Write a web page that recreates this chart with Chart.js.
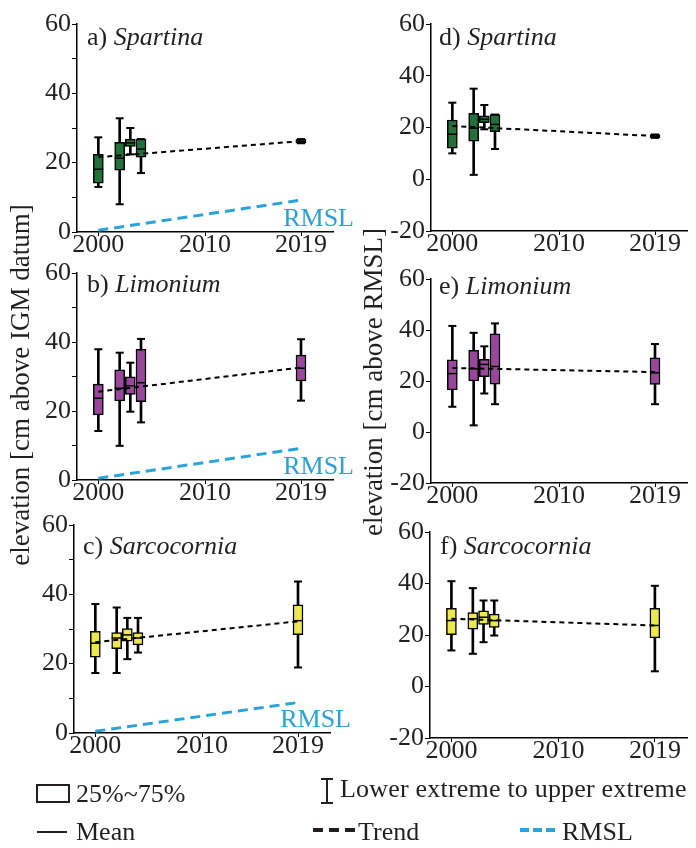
<!DOCTYPE html>
<html><head><meta charset="utf-8">
<script src="https://cdn.jsdelivr.net/npm/chart.js@4/dist/chart.umd.min.js"></script>
<style>
html,body{margin:0;padding:0;background:#fff;}
body{width:696px;height:848px;position:relative;overflow:hidden;font-family:'Liberation Serif',serif;color:#231f20;}
canvas{position:absolute;}
.lg{position:absolute;font-size:26px;line-height:26px;white-space:nowrap;}
.k{position:absolute;background:#231f20;}
.c{position:absolute;background:#29a3d8;}
</style></head><body>
<canvas id="pa"></canvas><canvas id="pb"></canvas><canvas id="pc"></canvas>
<canvas id="pd"></canvas><canvas id="pe"></canvas><canvas id="pf"></canvas>

<div style="position:absolute;left:36px;top:784px;width:30px;height:15px;border:2px solid #231f20;"></div>
<div class="lg" style="left:76px;top:781px">25%~75%</div>
<div class="k" style="left:37px;top:831px;width:30px;height:2px"></div>
<div class="lg" style="left:76px;top:819px">Mean</div>
<div class="k" style="left:326px;top:779px;width:2px;height:24px"></div>
<div class="k" style="left:321px;top:778px;width:12px;height:2px"></div>
<div class="k" style="left:321px;top:802px;width:12px;height:2px"></div>
<div class="lg" style="left:340px;top:776px;letter-spacing:0.2px">Lower extreme to upper extreme</div>
<div class="k" style="left:313px;top:828px;width:10px;height:4px"></div>
<div class="k" style="left:329px;top:828px;width:10px;height:4px"></div>
<div class="k" style="left:345px;top:828px;width:10px;height:4px"></div>
<div class="lg" style="left:358px;top:819px">Trend</div>
<div class="c" style="left:520px;top:828px;width:9px;height:4px"></div>
<div class="c" style="left:533px;top:828px;width:9px;height:4px"></div>
<div class="c" style="left:546px;top:828px;width:9px;height:4px"></div>
<div class="lg" style="left:562px;top:819px">RMSL</div>

<script>
// ---------- data ----------
const years = [2000, 2002, 2003, 2004, 2019];
const trendYears = [2000, 2019];
const xTicks = [2000, 2010, 2019];
const yTicksIGM = [0, 10, 20, 30, 40, 50, 60];
const yTicksRMSL = [-20, -10, 0, 10, 20, 30, 40, 50, 60];

// a) Spartina, cm above IGM datum
const aMin  = [13.0, 8.0, 22.4, 17.0, 25.6];
const aQ1   = [14.1, 17.8, 24.7, 21.6, 25.6];
const aMean = [18.1, 21.3, 25.7, 23.9, 26.2];
const aQ3   = [22.4, 25.9, 26.8, 26.8, 26.8];
const aMax  = [27.3, 32.8, 30.0, 26.8, 26.8];
const aTrend = [21.6, 26.2];

// b) Limonium, cm above IGM datum
const bMin  = [14.2, 9.9, 19.8, 16.7, 23.0];
const bQ1   = [18.9, 22.9, 24.8, 22.7, 28.7];
const bMean = [23.7, 26.6, 27.3, 28.2, 32.4];
const bQ3   = [27.8, 31.9, 29.9, 37.9, 36.2];
const bMax  = [37.9, 36.9, 34.0, 40.9, 40.8];
const bTrend = [25.6, 32.6];

// c) Sarcocornia, cm above IGM datum
const cMin  = [17.3, 17.3, 21.3, 23.2, 18.9];
const cQ1   = [21.9, 24.3, 26.5, 25.4, 28.4];
const cMean = [25.9, 27.4, 28.3, 27.4, 32.4];
const cQ3   = [29.3, 29.0, 30.1, 29.0, 37.0];
const cMax  = [37.2, 36.2, 33.2, 33.2, 43.7];
const cTrend = [26.2, 32.2];

// d) Spartina, cm above RMSL
const dMin  = [10.0, 1.7, 19.3, 11.7, 16.0];
const dQ1   = [12.0, 14.7, 21.9, 18.4, 16.0];
const dMean = [17.4, 19.7, 23.2, 21.2, 16.6];
const dQ3   = [22.9, 25.5, 24.5, 25.0, 17.3];
const dMax  = [29.6, 35.0, 28.7, 25.0, 17.3];
const dTrend = [20.6, 16.7];

// e) Limonium, cm above RMSL
const eMin  = [9.9, 2.6, 15.1, 10.9, 10.9];
const eQ1   = [16.5, 20.0, 21.7, 18.8, 18.7];
const eMean = [22.9, 24.8, 26.5, 25.7, 23.2];
const eQ3   = [28.3, 32.0, 28.5, 38.5, 29.1];
const eMax  = [41.6, 38.9, 33.6, 42.6, 34.5];
const eTrend = [25.1, 23.5];

// f) Sarcocornia, cm above RMSL
const fMin  = [14.0, 12.7, 17.2, 19.8, 5.9];
const fQ1   = [20.1, 22.3, 24.1, 22.9, 18.9];
const fMean = [25.6, 26.3, 26.9, 25.6, 23.7];
const fQ3   = [30.4, 28.7, 29.4, 28.1, 30.4];
const fMax  = [40.9, 38.2, 33.4, 33.4, 39.1];
const fTrend = [26.3, 23.7];

// relative mean sea level rise (cm), 2000 -> 2019
const rmslA = [0.5, 9.2];
const rmslB = [0.5, 9.2];
const rmslC = [0.5, 8.8];

// ---------- styling / layout ----------
const INK = '#231f20';
const GREEN = '#22703a', PURPLE = '#98479a', YELLOW = '#ece74c', CYAN = '#29a3d8';
Chart.defaults.font.family = '"Liberation Serif", "Times New Roman", serif';
Chart.defaults.font.size = 26;
Chart.defaults.color = INK;

const panelText = {
  id: 'panelText',
  afterDraw(chart, args, o) {
    const {ctx, chartArea: ca} = chart;
    ctx.save();
    ctx.fillStyle = INK;
    ctx.textBaseline = 'middle';
    ctx.textAlign = 'left';
    ctx.font = '26px "Liberation Serif"';
    const x0 = ca.left + o.dx, y0 = ca.top + o.dy;
    ctx.fillText(o.letter, x0, y0);
    const w = ctx.measureText(o.letter).width;
    ctx.font = 'italic 26px "Liberation Serif"';
    ctx.fillText(o.species, x0 + w, y0);
    if (o.rmsl) {
      ctx.font = '26px "Liberation Serif"';
      ctx.fillStyle = CYAN;
      ctx.textAlign = 'right';
      ctx.fillText('RMSL', ca.right + 21, ca.bottom - 13);
    }
    if (o.ytitle) {
      ctx.fillStyle = INK;
      ctx.font = '27px "Liberation Serif"';
      ctx.translate(o.tx, ca.top + o.ty);
      ctx.rotate(-Math.PI / 2);
      ctx.textAlign = 'center';
      ctx.fillText(o.ytitle, 0, 0);
    }
    ctx.restore();
  }
};

function panel(p) {
  const cv = document.getElementById(p.id);
  cv.width = p.w; cv.height = p.h;
  cv.style.left = p.x + 'px'; cv.style.top = p.y + 'px';
  const pts = arr => years.map((x, i) => ({x, y: arr[i]}));
  const ds = [
    {type: 'line', label: 'Trend', data: trendYears.map((x, i) => ({x, y: p.trend[i]})),
     borderColor: '#000', borderWidth: 2, borderDash: [5, 4], pointRadius: 0, fill: false, order: 0},
    {type: 'line', label: 'Mean', data: pts(p.mean), showLine: false, pointStyle: 'line',
     pointRadius: 5, pointBorderColor: '#000', pointBorderWidth: 1.5, borderColor: '#000', order: 1},
    {type: 'bar', label: '25%~75%', data: years.map((x, i) => ({x, y: [p.q1[i], p.q3[i]]})),
     backgroundColor: p.color, borderColor: '#000', borderWidth: 1.5, borderSkipped: false,
     barThickness: 10, grouped: false, order: 2},
    {type: 'line', label: 'caps', data: pts(p.min).concat(pts(p.max)), showLine: false, pointStyle: 'line',
     pointRadius: 4, pointBorderColor: '#000', pointBorderWidth: 2, borderColor: '#000', order: 3},
    {type: 'bar', label: 'extremes', data: years.map((x, i) => ({x, y: [p.min[i], p.max[i]]})),
     backgroundColor: '#000', borderWidth: 0, barThickness: 2, grouped: false, order: 4}
  ];
  if (p.rmsl) ds.push({type: 'line', label: 'RMSL', data: trendYears.map((x, i) => ({x, y: p.rmsl[i]})),
     borderColor: CYAN, borderWidth: 3, borderDash: [10, 6], pointRadius: 0, fill: false, order: 5});
  new Chart(cv, {
    type: 'bar',
    data: {datasets: ds},
    plugins: [panelText],
    options: {
      responsive: false, animation: false, devicePixelRatio: 1,
      layout: {padding: {left: 0, top: p.at - p.y, right: p.x + p.w - p.ar, bottom: 0}},
      plugins: {legend: {display: false}, tooltip: {enabled: false},
        panelText: {letter: p.letter, species: p.species, dx: p.dx, dy: p.dy, rmsl: !!p.rmsl,
                    ytitle: p.ytitle, tx: p.tx, ty: p.ty}},
      scales: {
        x: {type: 'linear', min: 1998, max: 2022, offset: false,
          afterBuildTicks: s => { s.ticks = xTicks.map(v => ({value: v})); },
          afterFit: s => { s.height = p.y + p.h - p.ab; },
          grid: {display: true, drawOnChartArea: false, drawTicks: true, tickLength: 4, color: '#000', offset: false},
          border: {display: true, color: '#000', width: 1.5},
          ticks: {color: INK, padding: -6, maxRotation: 0, autoSkip: false, callback: v => String(v)}},
        y: {type: 'linear', min: p.ymin, max: 60,
          afterBuildTicks: s => { s.ticks = p.yticks.map(v => ({value: v})); },
          afterFit: s => { s.width = p.al - p.x; },
          grid: {display: true, drawOnChartArea: false, drawTicks: true, tickLength: 5, color: '#000'},
          border: {display: true, color: '#000', width: 1.5},
          ticks: {color: INK, padding: 1, callback: v => (v % 20 === 0 ? String(v) : '')}}
      }
    }
  });
}

panel({id: 'pa', x: 0, y: 0, w: 362, h: 262, al: 77, at: 24, ar: 333, ab: 232, ymin: 0, yticks: yTicksIGM,
  min: aMin, q1: aQ1, mean: aMean, q3: aQ3, max: aMax, trend: aTrend, rmsl: rmslA, color: GREEN,
  letter: 'a) ', species: 'Spartina', dx: 10, dy: 14});
panel({id: 'pb', x: 0, y: 190, w: 362, h: 380, al: 77, at: 273, ar: 333, ab: 480, ymin: 0, yticks: yTicksIGM,
  min: bMin, q1: bQ1, mean: bMean, q3: bQ3, max: bMax, trend: bTrend, rmsl: rmslB, color: PURPLE,
  letter: 'b) ', species: 'Limonium', dx: 10, dy: 12,
  ytitle: 'elevation [cm above IGM datum]', tx: 22, ty: 112});
panel({id: 'pc', x: 0, y: 500, w: 362, h: 270, al: 74, at: 525, ar: 330, ab: 733, ymin: 0, yticks: yTicksIGM,
  min: cMin, q1: cQ1, mean: cMean, q3: cQ3, max: cMax, trend: cTrend, rmsl: rmslC, color: YELLOW,
  letter: 'c) ', species: 'Sarcocornia', dx: 9, dy: 22});
panel({id: 'pd', x: 356, y: 0, w: 340, h: 262, al: 431, at: 24, ar: 687, ab: 231, ymin: -20, yticks: yTicksRMSL,
  min: dMin, q1: dQ1, mean: dMean, q3: dQ3, max: dMax, trend: dTrend, color: GREEN,
  letter: 'd) ', species: 'Spartina', dx: 8, dy: 14});
panel({id: 'pe', x: 356, y: 190, w: 340, h: 380, al: 431, at: 279, ar: 687, ab: 483, ymin: -20, yticks: yTicksRMSL,
  min: eMin, q1: eQ1, mean: eMean, q3: eQ3, max: eMax, trend: eTrend, color: PURPLE,
  letter: 'e) ', species: 'Limonium', dx: 8, dy: 8,
  ytitle: 'elevation [cm above RMSL]', tx: 19, ty: 103});
panel({id: 'pf', x: 356, y: 505, w: 340, h: 265, al: 430, at: 532, ar: 687, ab: 738, ymin: -20, yticks: yTicksRMSL,
  min: fMin, q1: fQ1, mean: fMean, q3: fQ3, max: fMax, trend: fTrend, color: YELLOW,
  letter: 'f) ', species: 'Sarcocornia', dx: 10, dy: 15});
</script>
</body></html>
